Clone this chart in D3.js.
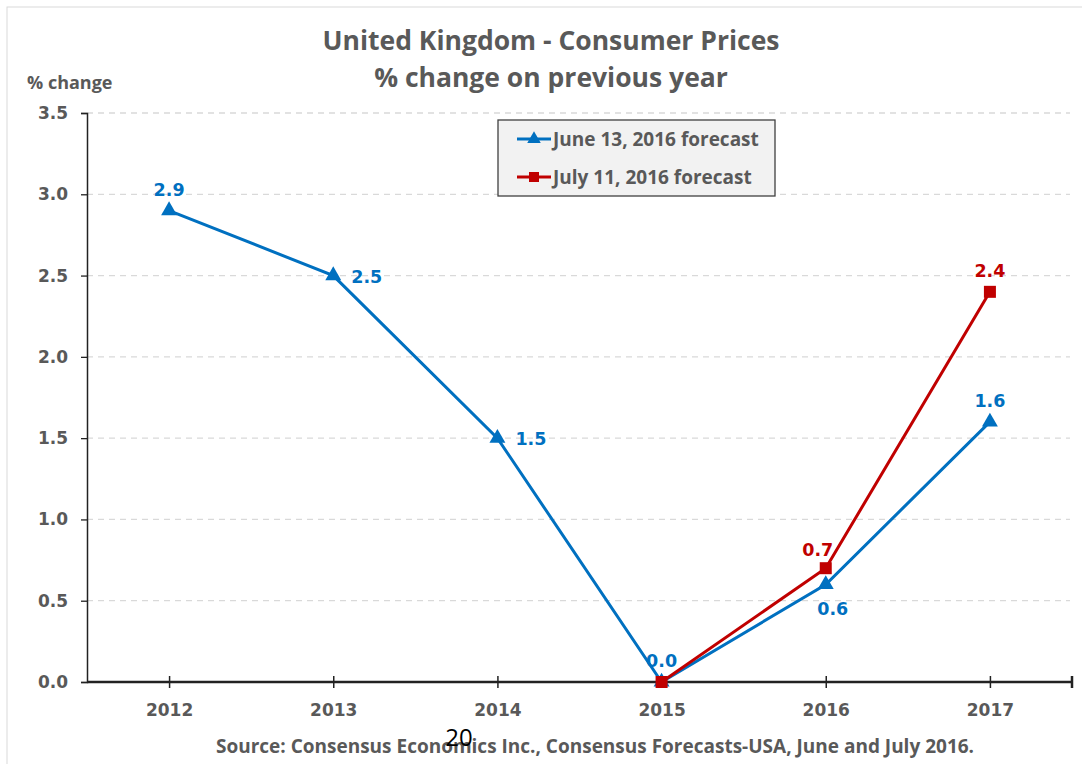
<!DOCTYPE html>
<html>
<head>
<meta charset="utf-8">
<script src="https://cdn.jsdelivr.net/npm/d3@7"></script>
<style>
  body { margin: 0; background: #fff; }
  text { font-family: "Open Sans", "Noto Sans", sans-serif; font-weight: bold; fill: #595959; }
  .num { font-family: "DejaVu Sans", sans-serif; }
</style>
</head>
<body>
<div id="viz"></div>
<script>
const years = ['2012', '2013', '2014', '2015', '2016', '2017'];
const juneValues = [2.9, 2.5, 1.5, 0.0, 0.6, 1.6];
const julyYears = ['2015', '2016', '2017'];
const julyValues = [0.0, 0.7, 2.4];
const yTicks = [0, 0.5, 1.0, 1.5, 2.0, 2.5, 3.0, 3.5];
const juneLabelPos = ['top', 'right', 'right', 'top', 'bottom', 'top'];
const julyLabelPos = ['none', 'topleft', 'top'];

const width = 1082;
const height = 764;
const blue = '#0070C0';
const red = '#C00000';

const svg = d3.select('#viz').append('svg')
  .attr('width', width)
  .attr('height', height);

// outer chart border
svg.append('rect')
  .attr('x', 7).attr('y', 7)
  .attr('width', 1100).attr('height', 800)
  .attr('fill', 'none')
  .attr('stroke', '#d9d9d9');

const x = d3.scalePoint()
  .domain(years)
  .range([87, 1072])
  .padding(0.5);

const y = d3.scaleLinear()
  .domain([0, 3.5])
  .range([682, 113]);

// gridlines
svg.append('g')
  .selectAll('line').data(yTicks.slice(1))
  .enter().append('line')
    .attr('x1', 87).attr('x2', 1070)
    .attr('y1', (d) => y(d)).attr('y2', (d) => y(d))
    .attr('stroke', '#d9d9d9')
    .attr('stroke-width', 1.3)
    .attr('stroke-dasharray', '6,5');

// y axis
const yAxis = svg.append('g')
  .attr('transform', 'translate(87,0)')
  .call(d3.axisLeft(y).tickValues(yTicks).tickFormat(d3.format('.1f')).tickSize(6).tickPadding(13));
yAxis.select('.domain').attr('stroke', '#222').attr('stroke-width', 1.5);
yAxis.selectAll('.tick line').attr('stroke', '#222').attr('stroke-width', 1.3);
yAxis.selectAll('.tick text')
  .style('font-size', '17px')
  .style('font-family', '"DejaVu Sans", sans-serif')
  .attr('fill', '#595959');

// x axis
const xAxis = svg.append('g')
  .attr('transform', 'translate(0,682)')
  .call(d3.axisBottom(x).tickSizeInner(-6).tickSizeOuter(-6).tickPadding(22));
xAxis.select('.domain').attr('stroke', '#222').attr('stroke-width', 2.5)
  .attr('d', 'M87,0H1072M1072,-6V6');
xAxis.selectAll('.tick line').attr('y1', -6).attr('y2', 6).attr('stroke', '#222').attr('stroke-width', 1.5);
xAxis.selectAll('.tick text')
  .style('font-size', '17px')
  .style('font-family', '"DejaVu Sans", sans-serif')
  .attr('fill', '#595959');

const line = d3.line()
  .x((d) => x(d.year))
  .y((d) => y(d.value));

const june = years.map((yr, i) => ({ year: yr, value: juneValues[i], pos: juneLabelPos[i] }));
const july = julyYears.map((yr, i) => ({ year: yr, value: julyValues[i], pos: julyLabelPos[i] }));

const triangle = d3.symbol().type(d3.symbolTriangle).size(110);

// June series
svg.append('path').datum(june)
  .attr('d', line)
  .attr('fill', 'none')
  .attr('stroke', blue)
  .attr('stroke-width', 3);
svg.append('g').selectAll('path').data(june)
  .enter().append('path')
    .attr('d', triangle)
    .attr('transform', (d) => `translate(${x(d.year)},${y(d.value)})`)
    .attr('fill', blue);

// July series
svg.append('path').datum(july)
  .attr('d', line)
  .attr('fill', 'none')
  .attr('stroke', red)
  .attr('stroke-width', 3);
svg.append('g').selectAll('rect').data(july)
  .enter().append('rect')
    .attr('x', (d) => x(d.year) - 6)
    .attr('y', (d) => y(d.value) - 6)
    .attr('width', 12).attr('height', 12)
    .attr('fill', red);

// data labels
const labelOffset = {
  top: [0, -15, 'middle'],
  right: [18, 7, 'start'],
  bottom: [7, 31, 'middle'],
  topleft: [-8, -12, 'middle']
};
function drawLabels(data, color) {
  svg.append('g').selectAll('text').data(data.filter((d) => d.pos !== 'none'))
    .enter().append('text')
      .attr('class', 'num')
      .attr('x', (d) => x(d.year) + labelOffset[d.pos][0])
      .attr('y', (d) => y(d.value) + labelOffset[d.pos][1])
      .attr('text-anchor', (d) => labelOffset[d.pos][2])
      .style('font-size', '17.5px')
      .style('fill', color)
      .text((d) => d3.format('.1f')(d.value));
}
drawLabels(june, blue);
drawLabels(july, red);

// title
svg.append('text')
  .attr('x', 551).attr('y', 50)
  .attr('text-anchor', 'middle')
  .style('font-size', '26.5px')
  .text('United Kingdom - Consumer Prices');
svg.append('text')
  .attr('x', 551).attr('y', 87)
  .attr('text-anchor', 'middle')
  .style('font-size', '26.5px')
  .text('% change on previous year');

svg.append('text')
  .attr('x', 27).attr('y', 89)
  .style('font-size', '18px')
  .text('% change');

// legend
const legend = svg.append('g').attr('transform', 'translate(498,120)');
legend.append('rect')
  .attr('width', 277).attr('height', 76)
  .attr('fill', '#f2f2f2')
  .attr('stroke', '#404040')
  .attr('stroke-width', 1.3);
const legendItems = [
  { name: 'June 13, 2016 forecast', color: blue, shape: 'triangle' },
  { name: 'July 11, 2016 forecast', color: red, shape: 'square' }
];
const item = legend.selectAll('g').data(legendItems)
  .enter().append('g')
    .attr('transform', (d, i) => `translate(0,${19 + i * 38})`);
item.append('line')
  .attr('x1', 19).attr('x2', 53)
  .attr('stroke', (d) => d.color)
  .attr('stroke-width', 3);
item.filter((d) => d.shape === 'triangle').append('path')
  .attr('d', d3.symbol().type(d3.symbolTriangle).size(80))
  .attr('transform', 'translate(36,0)')
  .attr('fill', blue);
item.filter((d) => d.shape === 'square').append('rect')
  .attr('x', 31).attr('y', -5).attr('width', 10).attr('height', 10)
  .attr('fill', red);
item.append('text')
  .attr('x', 55).attr('y', 7)
  .style('font-size', '19px')
  .text((d) => d.name);

// source note
svg.append('text')
  .attr('x', 595).attr('y', 753)
  .attr('text-anchor', 'middle')
  .style('font-size', '19px')
  .text('Source: Consensus Economics Inc., Consensus Forecasts-USA, June and July 2016.');

// page number overlay
svg.append('text')
  .attr('x', 459).attr('y', 746)
  .attr('text-anchor', 'middle')
  .style('font-size', '24px')
  .style('font-weight', 'normal')
  .style('fill', '#000')
  .text('20');
</script>
</body>
</html>
